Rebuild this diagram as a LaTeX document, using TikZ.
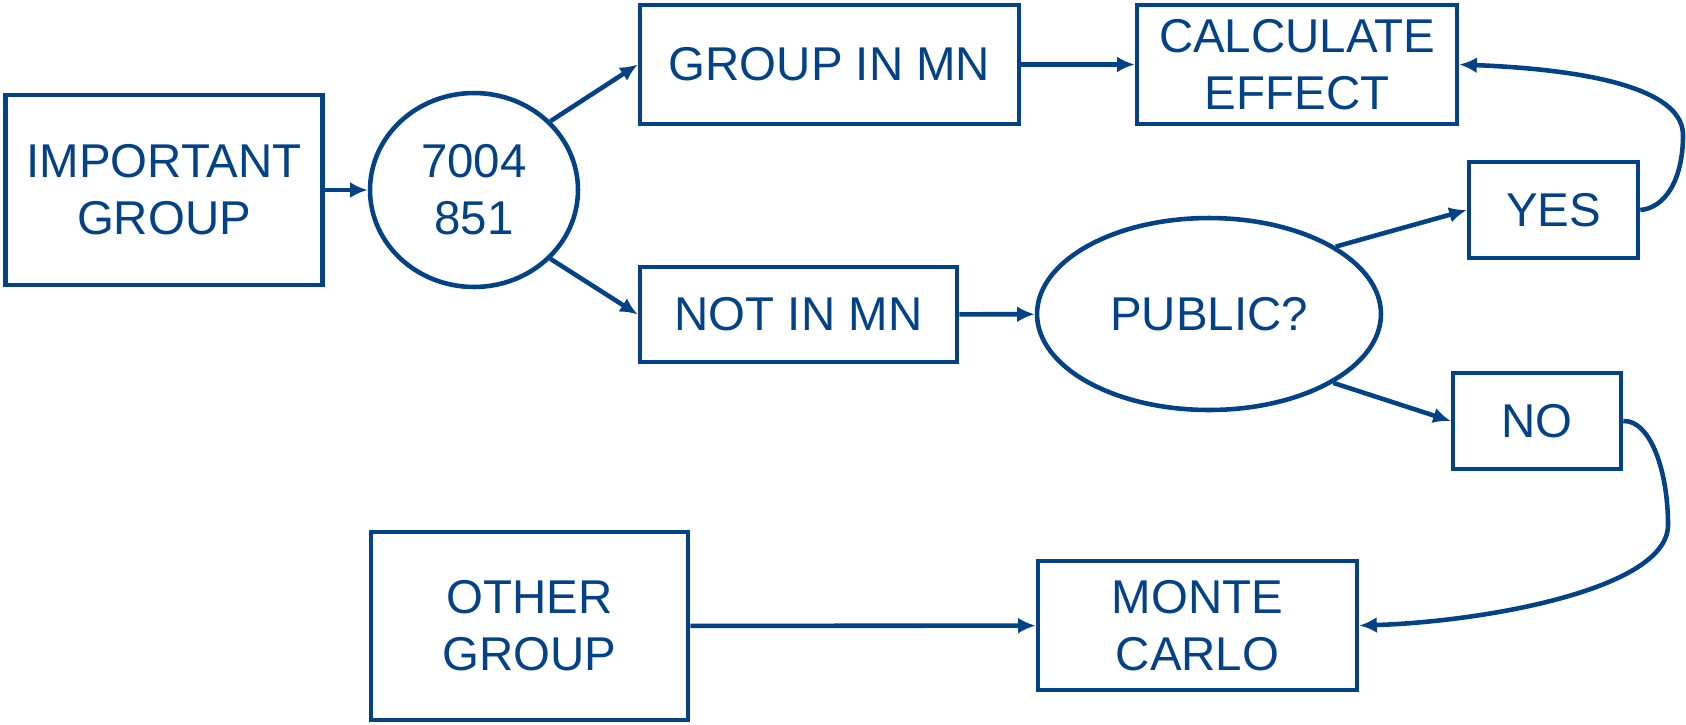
\documentclass[tikz,border=0pt]{standalone}
\usepackage{fontspec}
\setmainfont{Liberation Sans}
\usepackage{tikz}
\usetikzlibrary{arrows.meta, shapes.geometric}
\definecolor{flowblue}{RGB}{4,66,136}

\begin{document}
\begin{tikzpicture}[x=0.02cm, y=-0.02cm,
    every node/.style={text=flowblue, font=\fontsize{27}{32.5}\selectfont, align=center, inner sep=0pt},
    box/.style={draw=flowblue, line width=2.6pt, rectangle},
    oval/.style={draw=flowblue, line width=2.6pt, ellipse},
    arr/.style={draw=flowblue, line width=2.6pt, -{Latex[length=10pt,width=9pt]}}]
  \useasboundingbox (0,0) rectangle (1686,724);
  % left part
  \node[box, minimum width=6.34cm, minimum height=3.8cm] (imp) at (164,190) {IMPORTANT\\GROUP};
  \node[oval, minimum width=4.16cm, minimum height=3.88cm] (num) at (474,190) {7004\\851};
  \node[box, minimum width=7.58cm, minimum height=2.38cm] (grp) at (829.5,64.5) {GROUP IN MN};
  \node[box, minimum width=6.34cm, minimum height=1.9cm] (notmn) at (798.5,314.5) {NOT IN MN};
  \node[box, minimum width=6.34cm, minimum height=3.76cm] (other) at (529.5,626) {OTHER\\GROUP};
  % right part
  \node[box, minimum width=6.4cm, minimum height=2.38cm] (calc) at (1297,64.5) {CALCULATE\\EFFECT};
  \node[oval, minimum width=6.88cm, minimum height=3.84cm] (public) at (1209,314) {PUBLIC?};
  \node[box, minimum width=3.38cm, minimum height=1.92cm] (yes) at (1553.5,210) {YES};
  \node[box, minimum width=3.36cm, minimum height=1.92cm] (no) at (1537,421) {NO};
  \node[box, minimum width=6.38cm, minimum height=2.58cm] (monte) at (1197.5,625.5) {MONTE\\CARLO};
  % connectors
  \draw[arr] (imp) -- (num);
  \draw[arr] (num.42) -- (grp.west);
  \draw[arr] (num.-42) -- (notmn.west);
  \draw[arr] (grp) -- (calc);
  \draw[arr] (notmn) -- (public);
  \draw[arr] (public.28) -- (yes.west);
  \draw[arr] (public.-29) -- (no.west);
  \draw[arr] (other) -- (monte);
  % loops back
  \draw[arr] (yes.east) .. controls (1665,208) and (1683,180) .. (1683,135)
    .. controls (1683,80) and (1550,68) .. (calc.east);
  \draw[arr] (no.east) .. controls (1650,420) and (1668,470) .. (1668,525)
    .. controls (1668,590) and (1480,622) .. (monte.east);
\end{tikzpicture}
\end{document}
